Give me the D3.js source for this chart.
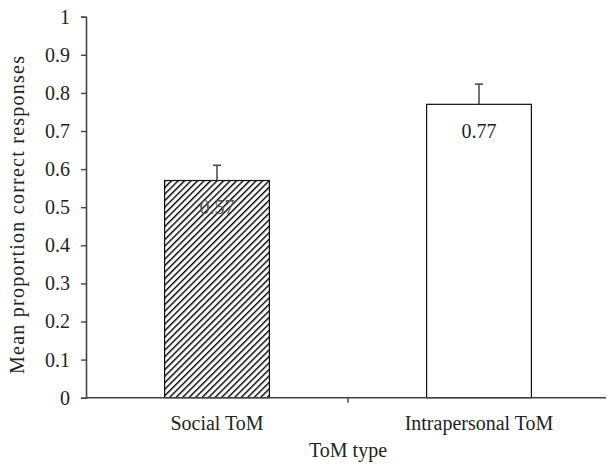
<!DOCTYPE html>
<html>
<head>
<meta charset="utf-8">
<script src="https://cdn.jsdelivr.net/npm/d3@7"></script>
<style>
  body { margin: 0; background: #fff; }
  text { font-family: "Liberation Serif", "DejaVu Serif", serif; fill: #231f20; }
</style>
</head>
<body>
<div id="chart"></div>
<script>
// chart data
const categories = ["Social ToM", "Intrapersonal ToM"];
const means = [0.57, 0.77];
const errors = [0.04, 0.053];
const yTicks = [0, 0.1, 0.2, 0.3, 0.4, 0.5, 0.6, 0.7, 0.8, 0.9, 1];

let w = 607;
let h = 464;
let fs = 20;

const svg = d3.select("#chart")
  .append("svg")
  .attr("width", w)
  .attr("height", h);

// hatch pattern for the first bar
const defs = svg.append("defs");
const pat = defs.append("pattern")
  .attr("id", "hatch")
  .attr("patternUnits", "userSpaceOnUse")
  .attr("width", 4.6)
  .attr("height", 4.6)
  .attr("patternTransform", "rotate(45)");
pat.append("rect").attr("width", 4.6).attr("height", 4.6).attr("fill", "#fff");
pat.append("line")
  .attr("x1", 0).attr("y1", 0).attr("x2", 0).attr("y2", 4.6)
  .attr("stroke", "#000").attr("stroke-width", 2.8);

const x = d3.scaleBand()
  .domain(categories)
  .range([86, 610])
  .paddingInner(0)
  .paddingOuter(0);

const y = d3.scaleLinear()
  .domain([0, 1])
  .range([397.7, 16.7]);

const barW = x.bandwidth() * 0.4;

// bars
svg.selectAll("rect.bar")
  .data(means)
  .enter()
  .append("rect")
  .attr("class", "bar")
  .attr("x", (d, i) => x(categories[i]) + x.bandwidth() / 2 - barW / 2)
  .attr("y", d => y(d))
  .attr("width", barW)
  .attr("height", d => y(0) - y(d))
  .attr("fill", (d, i) => i === 0 ? "url(#hatch)" : "#fff")
  .attr("stroke", "#111")
  .attr("stroke-width", 1.2);

// error bars (upper only)
const eb = svg.selectAll("g.err")
  .data(means)
  .enter()
  .append("g")
  .attr("class", "err");
eb.append("line")
  .attr("x1", (d, i) => x(categories[i]) + x.bandwidth() / 2)
  .attr("x2", (d, i) => x(categories[i]) + x.bandwidth() / 2)
  .attr("y1", d => y(d))
  .attr("y2", (d, i) => y(d + errors[i]))
  .attr("stroke", "#444")
  .attr("stroke-width", 1.5);
eb.append("line")
  .attr("x1", (d, i) => x(categories[i]) + x.bandwidth() / 2 - 4)
  .attr("x2", (d, i) => x(categories[i]) + x.bandwidth() / 2 + 4)
  .attr("y1", (d, i) => y(d + errors[i]))
  .attr("y2", (d, i) => y(d + errors[i]))
  .attr("stroke", "#444")
  .attr("stroke-width", 1.5);

// value labels
svg.selectAll("text.val")
  .data(means)
  .enter()
  .append("text")
  .attr("class", "val")
  .attr("x", (d, i) => x(categories[i]) + x.bandwidth() / 2)
  .attr("y", d => y(d) + 33.5)
  .attr("text-anchor", "middle")
  .attr("font-size", fs)
  .style("fill", (d, i) => i === 0 ? "#555" : "#231f20")
  .text(d => d.toFixed(2));

// y axis
const yAxis = d3.axisLeft(y)
  .tickValues(yTicks)
  .tickSize(5)
  .tickPadding(11)
  .tickFormat(d => d3.format("")(+d.toFixed(1)));
const gy = svg.append("g")
  .attr("transform", "translate(86,0)")
  .call(yAxis);
gy.select(".domain").attr("stroke", "#444").attr("stroke-width", 1.6);
gy.selectAll(".tick line").attr("stroke", "#444").attr("stroke-width", 1.4);
gy.selectAll(".tick text")
  .attr("font-size", fs)
  .attr("font-family", "Liberation Serif, serif")
  .style("fill", "#231f20");

// x axis
const xAxis = d3.axisBottom(x).tickSize(0).tickPadding(18);
const gx = svg.append("g")
  .attr("transform", "translate(0," + y(0) + ")")
  .call(xAxis);
gx.select(".domain").attr("stroke", "#444").attr("stroke-width", 1.6)
  .attr("d", "M86,0H606");
gx.selectAll(".tick text")
  .attr("font-size", fs)
  .attr("font-family", "Liberation Serif, serif")
  .style("fill", "#231f20");
// tick mark between categories
gx.append("line")
  .attr("x1", x(categories[1])).attr("x2", x(categories[1]))
  .attr("y1", 0).attr("y2", 5)
  .attr("stroke", "#444").attr("stroke-width", 1.4);

// axis titles
svg.append("text")
  .attr("x", x(categories[1]))
  .attr("y", 457)
  .attr("text-anchor", "middle")
  .attr("font-size", fs)
  .text("ToM type");

svg.append("text")
  .attr("transform", "translate(24," + 215 + ") rotate(-90)")
  .attr("text-anchor", "middle")
  .attr("font-size", fs)
  .attr("textLength", 318)
  .attr("lengthAdjust", "spacing")
  .text("Mean proportion correct responses");
</script>
</body>
</html>
